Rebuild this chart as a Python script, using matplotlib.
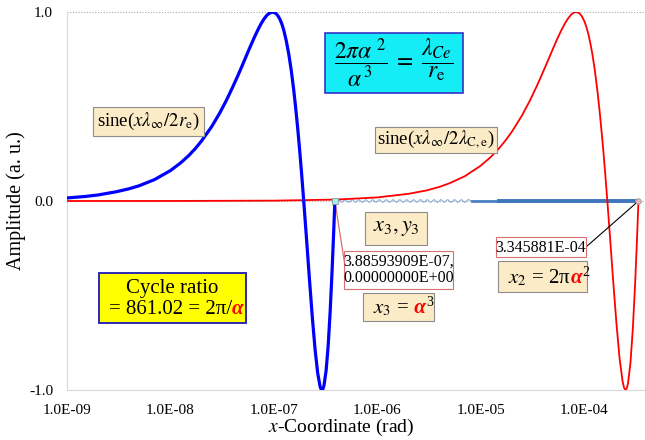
import matplotlib
matplotlib.use('Agg')
import matplotlib.pyplot as plt
from matplotlib.patches import Rectangle

plt.rcParams['font.family'] = ['Liberation Serif', 'DejaVu Serif']
plt.rcParams['mathtext.fontset'] = 'stix'

# blue curve: sine(x*lam_inf/2r_e), one cycle up to x3
blue_x = [1e-9, 1.5e-9, 2e-9, 3e-9, 4e-9, 5e-9, 7e-9,
          1.0e-8, 1.25e-8, 1.5e-8, 1.75e-8, 2.0e-8,
          2.5e-8, 3e-8, 3.5e-8, 4e-8, 4.5e-8, 5e-8, 5.5e-8, 6e-8, 6.5e-8, 7e-8,
          7.5e-8, 8e-8, 8.5e-8, 9e-8, 9.715e-8,
          1.05e-7, 1.10e-7, 1.15e-7, 1.20e-7, 1.25e-7,
          1.32e-7, 1.40e-7, 1.47e-7, 1.55e-7, 1.62e-7, 1.70e-7, 1.77e-7, 1.85e-7,
          1.943e-7,
          2.05e-7, 2.2e-7, 2.35e-7, 2.5e-7, 2.65e-7, 2.8e-7, 2.86e-7,
          2.915e-7,
          2.97e-7, 3.05e-7, 3.2e-7, 3.35e-7, 3.5e-7, 3.65e-7, 3.78e-7,
          3.8859e-7]
blue_y = [0.016, 0.024, 0.032, 0.049, 0.065, 0.081, 0.113,
          0.161, 0.201, 0.240, 0.279, 0.318,
          0.393, 0.466, 0.536, 0.603, 0.665, 0.723, 0.777, 0.825, 0.868, 0.905,
          0.937, 0.962, 0.981, 0.993, 1.0,
          0.992, 0.978, 0.959, 0.933, 0.901,
          0.845, 0.770, 0.693, 0.594, 0.499, 0.383, 0.276, 0.150,
          0.0,
          -0.172, -0.404, -0.612, -0.784, -0.910, -0.983, -0.996,
          -1.0,
          -0.996, -0.976, -0.896, -0.763, -0.584, -0.372, -0.171,
          0.0]

# red curve: sine(x*lam_inf/2lam_C,e), one cycle up to x2
red_x = [1e-9, 1e-8, 1e-7, 4e-7, 1e-6, 2e-6, 3e-6, 4e-6, 5e-6, 7e-6,
         1.0e-5, 1.25e-5, 1.5e-5, 1.75e-5, 2.0e-5, 2.5e-5, 3.0e-5, 3.5e-5, 4.0e-5,
         4.5e-5, 5.0e-5, 5.5e-5, 6.0e-5, 6.5e-5, 7.0e-5, 7.5e-5, 8.0e-5,
         8.365e-5,
         9.0e-5, 9.5e-5, 1.0e-4, 1.05e-4, 1.1e-4, 1.15e-4, 1.2e-4, 1.27e-4,
         1.35e-4, 1.42e-4, 1.5e-4, 1.55e-4, 1.6e-4,
         1.673e-4,
         1.75e-4, 1.9e-4, 2.05e-4, 2.2e-4, 2.35e-4, 2.43e-4,
         2.509e-4,
         2.58e-4, 2.65e-4, 2.8e-4, 2.95e-4, 3.1e-4, 3.22e-4,
         3.3459e-4]
red_y = [0.0, 0.0002, 0.0019, 0.0075, 0.019, 0.038, 0.056, 0.075, 0.094, 0.131,
         0.187, 0.233, 0.278, 0.323, 0.367, 0.452, 0.534, 0.611, 0.683,
         0.748, 0.807, 0.859, 0.903, 0.939, 0.967, 0.987, 0.998,
         1.0,
         0.993, 0.977, 0.953, 0.921, 0.880, 0.831, 0.776, 0.687,
         0.570, 0.457, 0.319, 0.229, 0.137,
         0.0,
         -0.144, -0.414, -0.650, -0.836, -0.955, -0.989,
         -1.0,
         -0.991, -0.965, -0.855, -0.676, -0.445, -0.234,
         0.0]

# small ripple of the blue sine beyond x3, getting denser to the right
ripple_x = [3.9e-7, 4.21e-7, 4.54e-7, 4.90e-7, 5.29e-7, 5.70e-7, 6.15e-7, 6.64e-7,
            7.16e-7, 7.73e-7, 8.34e-7, 9.00e-7, 9.71e-7, 1.048e-6, 1.131e-6,
            1.220e-6, 1.316e-6, 1.420e-6, 1.532e-6, 1.653e-6, 1.784e-6, 1.925e-6,
            2.077e-6, 2.241e-6, 2.418e-6, 2.609e-6, 2.815e-6, 3.037e-6, 3.277e-6,
            3.536e-6, 3.815e-6, 4.116e-6, 4.441e-6, 4.792e-6, 5.171e-6, 5.579e-6,
            6.020e-6, 6.495e-6, 7.008e-6, 7.562e-6, 8.159e-6]
ripple_y = [0.0, 0.008, -0.008, 0.008, -0.008, 0.008, -0.008, 0.008, -0.008,
            0.008, -0.008, 0.008, -0.008, 0.008, -0.008, 0.008, -0.008, 0.008,
            -0.008, 0.008, -0.008, 0.008, -0.008, 0.008, -0.008, 0.008, -0.008,
            0.008, -0.008, 0.008, -0.008, 0.008, -0.008, 0.008, -0.008, 0.008,
            -0.008, 0.008, -0.008, 0.008, 0.0]
band_x = [8.159e-6, 1.5e-5, 3.3459e-4]
band_y = [0.0, 0.0, 0.0]

x3 = 3.88593909e-07
x2 = 3.345881e-04

x_ticks = [1e-9, 1e-8, 1e-7, 1e-6, 1e-5, 1e-4]
x_tick_labels = ['1.0E-09', '1.0E-08', '1.0E-07', '1.0E-06', '1.0E-05', '1.0E-04']
y_ticks = [-1, 0, 1]
y_tick_labels = ['-1.0', '0.0', '1.0']

W, H = 645, 440


def fx(px):
    return px / W


def fy(py):
    return 1 - py / H


fig = plt.figure(figsize=(6.45, 4.4), dpi=100)
ax = fig.add_axes([67 / W, 1 - 390 / H, (646.5 - 67) / W, 378 / H])

ax.plot(ripple_x, ripple_y, color='#8fb0d6', lw=0.8, zorder=2)
ax.plot(band_x[:2], band_y[:2], color='#4a80c4', lw=2.0, zorder=2)
ax.plot(band_x[1:], band_y[1:], color='#3d76bd', lw=2.8, zorder=2)
ax.plot(red_x, red_y, color='#ff0000', lw=1.3, zorder=3)
ax.plot(blue_x, blue_y, color='#0000ff', lw=2.3, zorder=4)
ax.plot([x3], [0], 's', ms=4, mfc='#a8ecec', mec='#8a9a9a', mew=0.6, zorder=5)
ax.plot([x2], [0], 'o', ms=4, mfc='#e6b4b4', mec='#999999', mew=0.6, zorder=5)

ax.set_xscale('log')
ax.set_xlim(1e-9, 4e-4)
ax.set_ylim(-1, 1)
ax.set_xticks(x_ticks)
ax.set_xticklabels(x_tick_labels)
ax.minorticks_off()
ax.set_yticks(y_ticks)
ax.set_yticklabels(y_tick_labels)
ax.tick_params(length=0, pad=10, labelsize=11)
ax.yaxis.grid(True, linestyle=(0, (1, 1.5)), color='#a6a6a6', lw=0.8)
ax.set_axisbelow(True)
for side in ['top', 'right']:
    ax.spines[side].set_visible(False)
for side in ['left', 'bottom']:
    ax.spines[side].set_color('#d9d9d9')

ax.set_ylabel('Amplitude (a. u.)', fontsize=14.5)
ax.yaxis.set_label_coords(-0.071, 0.5)
ax.set_xlabel(r'$x$-Coordinate (rad)', fontsize=14)
ax.xaxis.set_label_coords(0.473, -0.07)


def box(x0, y0, x1, y1, fc, ec, lw=0.8):
    r = Rectangle((fx(x0), fy(y1)), fx(x1) - fx(x0), fy(y0) - fy(y1),
                  transform=fig.transFigure, fc=fc, ec=ec, lw=lw,
                  zorder=6, clip_on=False)
    ax.add_patch(r)


def label(px, py, s, size, **kw):
    ax.text(fx(px), fy(py), s, transform=fig.transFigure, ha='center',
            va='center', fontsize=size, zorder=7, **kw)


def pieces(px, py, parts, size):
    # consecutive text parts on one baseline, each with its own colour/style;
    # dy raises a part (in pixels), e.g. for a superscript
    prev = None
    for s, c, kw, dy in parts:
        kw = dict(kw)
        kw.setdefault('fontsize', size)
        if prev is None:
            prev = ax.text(fx(px), fy(py - dy), s, transform=fig.transFigure,
                           ha='left', va='baseline', color=c, zorder=7, **kw)
        else:
            prev = ax.annotate(s, xy=(1, fy(py - dy)),
                               xycoords=(prev, 'figure fraction'),
                               ha='left', va='baseline', color=c, zorder=7, **kw)


tan = '#fcebc7'
edge = '#8c8c8c'
pink = '#d9706f'
alpha_kw = dict(fontweight='bold', fontstyle='italic')
sup_kw = dict(fontsize=10)

box(93, 107, 204, 136, tan, edge)
label(148.5, 121, r'sine($x\lambda_{\infty}/2r_{\rm e}$)', 13.5)

box(375, 127, 497, 153, tan, edge)
label(436, 140, r'sine($x\lambda_{\infty}/2\lambda_{\rm C,e}$)', 13.5)

box(325, 33, 463, 93, '#14ecf6', '#3434c8', 1.2)
label(394, 63, r'$\dfrac{2\pi\alpha^{\ 2}}{\alpha^{\,3}}\;=\;\dfrac{\lambda_{Ce}}{r_{\rm e}}$', 17)

box(99, 273, 246, 323, '#ffff00', '#2a2ab8', 1.4)
label(172.5, 288, 'Cycle ratio', 15)
pieces(109, 314, [('= 861.02 = 2π/', 'black', {}, 0),
                  ('α', '#ff0000', alpha_kw, 0)], 15)

box(365, 212, 427, 245, tan, edge)
label(396, 228, r'$x_3, y_3$', 16)

box(344, 251, 453, 289, 'white', pink)
label(398.5, 270, '3.88593909E-07,\n0.00000000E+00', 11.5, linespacing=1.05)

box(363, 293, 434, 321, tan, edge)
pieces(373, 313, [(r'$x_3$ =', 'black', {}, 0), (' α', '#ff0000', alpha_kw, 0),
                  ('3', 'black', sup_kw, 7)], 15)

box(496, 237, 586, 257, 'white', pink)
label(541, 247.5, '3.345881E-04', 11.5)

box(498, 261, 587, 292, tan, edge)
pieces(508, 283, [(r'$x_2$ = 2π', 'black', {}, 0), ('α', '#ff0000', alpha_kw, 0),
                  ('2', 'black', sup_kw, 7)], 15)

# leader lines from the marked points to their value boxes
ax.annotate('', xy=(x3, 0), xycoords='data', xytext=(fx(345), fy(266)),
            textcoords='figure fraction',
            arrowprops=dict(arrowstyle='-', color=pink, lw=0.9, shrinkA=0, shrinkB=0))
ax.annotate('', xy=(x2, 0), xycoords='data', xytext=(fx(586), fy(247)),
            textcoords='figure fraction',
            arrowprops=dict(arrowstyle='-', color='black', lw=0.8, shrinkA=0, shrinkB=0))

fig.savefig('out.png', dpi=100)
